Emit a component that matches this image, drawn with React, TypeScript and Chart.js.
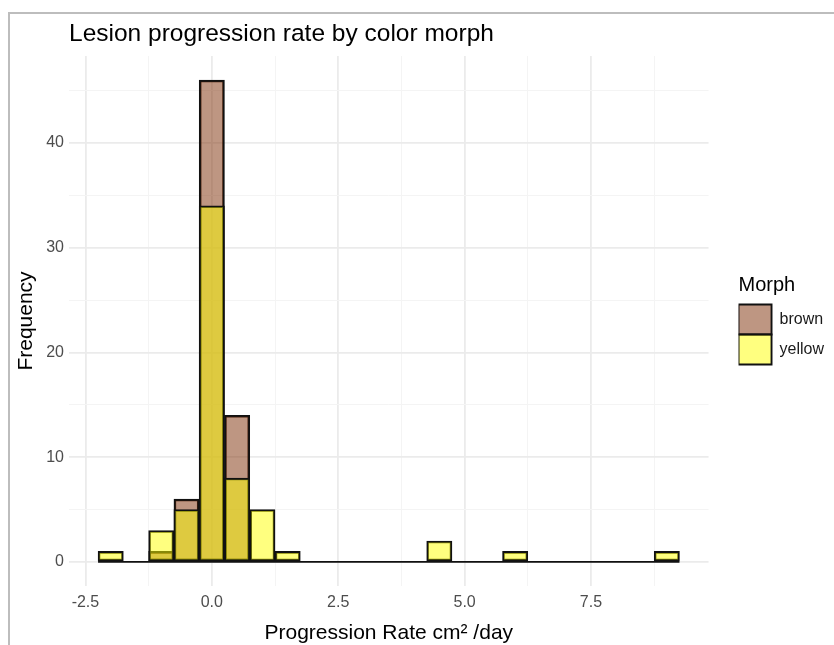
import React, { useEffect, useRef } from 'react';
import { Chart, registerables } from 'chart.js';

Chart.register(...registerables);

// ---- data ----
const binCenters = [-2, -1.5, -1, -0.5, 0, 0.5, 1, 1.5, 2, 2.5, 3, 3.5, 4, 4.5, 5, 5.5, 6, 6.5, 7, 7.5, 8, 8.5, 9];
const brownCounts = [0, 0, 1, 6, 46, 14, 0, 0, 0, 0, 0, 0, 0, 0, 0, 0, 0, 0, 0, 0, 0, 0, 0];
const yellowCounts = [1, 0, 3, 5, 34, 8, 5, 1, 0, 0, 0, 0, 0, 2, 0, 0, 1, 0, 0, 0, 0, 0, 1];
const binWidth = 0.5;
const seriesNames = ['brown', 'yellow'];
const xMajorTicks = [-2.5, 0, 2.5, 5, 7.5];
const xMinorTicks = [-1.25, 1.25, 3.75, 6.25, 8.75];
const yMajorTicks = [0, 10, 20, 30, 40];
const yMinorTicks = [5, 15, 25, 35, 45];

const FONT = "'Liberation Sans', Arial, Helvetica, sans-serif";

export default function App() {
  const ref = useRef<HTMLCanvasElement | null>(null);

  useEffect(() => {
    if (!ref.current) return;
    Chart.defaults.font.family = FONT;

    const lo = binCenters[0] - binWidth / 2;
    const hi = binCenters[binCenters.length - 1] + binWidth / 2;
    const xPad = (hi - lo) * 0.05;
    const yTop = Math.max(...brownCounts, ...yellowCounts);
    const yPad = yTop * 0.05;

    const xMajorSet = new Set(xMajorTicks);
    const yMajorSet = new Set(yMajorTicks);
    const xAll = [...xMajorTicks, ...xMinorTicks].sort((a, b) => a - b);
    const yAll = [...yMajorTicks, ...yMinorTicks].sort((a, b) => a - b);

    const gridColor = (set: Set<number>) => (c: any) =>
      c.tick && set.has(c.tick.value) ? '#ebebeb' : '#f4f4f4';
    const gridWidth = (set: Set<number>) => (c: any) =>
      c.tick && set.has(c.tick.value) ? 1.8 : 1;

    const chart = new Chart(ref.current, {
      type: 'bar',
      data: {
        datasets: [
          {
            type: 'bar',
            label: seriesNames[0],
            data: binCenters.map((x, i) => ({ x, y: brownCounts[i] })),
            backgroundColor: 'rgba(125,45,5,0.5)',
            borderColor: '#111111',
            borderWidth: 1.9,
            borderSkipped: false,
            barPercentage: 1,
            categoryPercentage: 1,
            grouped: false,
            order: 2,
          } as any,
          {
            type: 'bar',
            label: seriesNames[1],
            data: binCenters.map((x, i) => ({ x, y: yellowCounts[i] })),
            backgroundColor: 'rgba(255,255,0,0.5)',
            borderColor: '#111111',
            borderWidth: 1.9,
            borderSkipped: false,
            barPercentage: 1,
            categoryPercentage: 1,
            grouped: false,
            order: 1,
          } as any,
          {
            type: 'line',
            label: 'baseline',
            data: [
              { x: lo, y: 0 },
              { x: hi, y: 0 },
            ],
            borderColor: '#111111',
            borderWidth: 1.9,
            pointRadius: 0,
            order: 0,
          } as any,
        ],
      },
      options: {
        responsive: false,
        animation: false,
        layout: { padding: { top: 6, left: 0, right: 0, bottom: 11 } },
        scales: {
          x: {
            type: 'linear',
            offset: false,
            min: lo - xPad,
            max: hi + xPad,
            afterBuildTicks: (s: any) => {
              s.ticks = xAll.map((v) => ({ value: v }));
            },
            afterFit: (s: any) => {
              s.height = 48;
            },
            ticks: {
              autoSkip: false,
              maxRotation: 0,
              padding: 7,
              color: '#4d4d4d',
              font: { size: 16 },
              callback: (v: any) => (xMajorSet.has(Number(v)) ? Number(v).toFixed(1) : ''),
            },
            grid: {
              offset: false,
              drawTicks: false,
              color: gridColor(xMajorSet),
              lineWidth: gridWidth(xMajorSet),
            },
            border: { display: false },
            title: {
              display: true,
              text: 'Progression Rate cm² /day',
              color: '#000',
              font: { size: 21 },
              padding: { top: 0, bottom: -12 },
            },
          },
          y: {
            type: 'linear',
            min: -yPad,
            max: yTop + yPad,
            afterBuildTicks: (s: any) => {
              s.ticks = yAll.map((v) => ({ value: v }));
            },
            afterFit: (s: any) => {
              s.width = 69;
            },
            ticks: {
              autoSkip: false,
              padding: 5,
              color: '#4d4d4d',
              font: { size: 16 },
              callback: (v: any) => (yMajorSet.has(Number(v)) ? String(v) : ''),
            },
            grid: {
              drawTicks: false,
              color: gridColor(yMajorSet),
              lineWidth: gridWidth(yMajorSet),
            },
            border: { display: false },
            title: {
              display: true,
              text: 'Frequency',
              color: '#000',
              font: { size: 21 },
              padding: { top: 14, bottom: 0 },
            },
          },
          gap: {
            type: 'linear',
            position: 'right',
            display: true,
            grid: { display: false },
            ticks: { display: false },
            border: { display: false },
            afterFit: (s: any) => {
              s.width = 30;
            },
          } as any,
        },
        plugins: {
          title: {
            display: true,
            text: 'Lesion progression rate by color morph',
            align: 'start',
            fullSize: false,
            color: '#000',
            font: { size: 24.5, weight: 'normal' },
            padding: { top: 13.4, bottom: 7.2 },
          },
          legend: {
            position: 'right',
            align: 'center',
            title: {
              display: true,
              text: 'Morph',
              position: 'start',
              color: '#000',
              font: { size: 20 },
              padding: { top: 0, bottom: 5 },
            },
            labels: {
              boxWidth: 33,
              boxHeight: 30,
              padding: 0,
              color: '#1a1a1a',
              font: { size: 16 },
              filter: (item: any) => item.datasetIndex < 2,
              sort: (a: any, b: any) => a.datasetIndex - b.datasetIndex,
            },
          },
          tooltip: { enabled: false },
        },
      } as any,
    });

    return () => chart.destroy();
  }, []);

  return (
    <div
      style={{
        position: 'absolute',
        left: 0,
        top: 0,
        width: 834,
        height: 645,
        overflow: 'hidden',
        background: '#fff',
      }}
    >
      <canvas
        ref={ref}
        width={834}
        height={645}
        style={{ position: 'absolute', left: 0, top: 0, width: 834, height: 645 }}
      />
      <div
        style={{
          position: 'absolute',
          left: 8,
          top: 12,
          width: 900,
          height: 700,
          border: '2px solid #bdbdbd',
          pointerEvents: 'none',
        }}
      />
    </div>
  );
}
